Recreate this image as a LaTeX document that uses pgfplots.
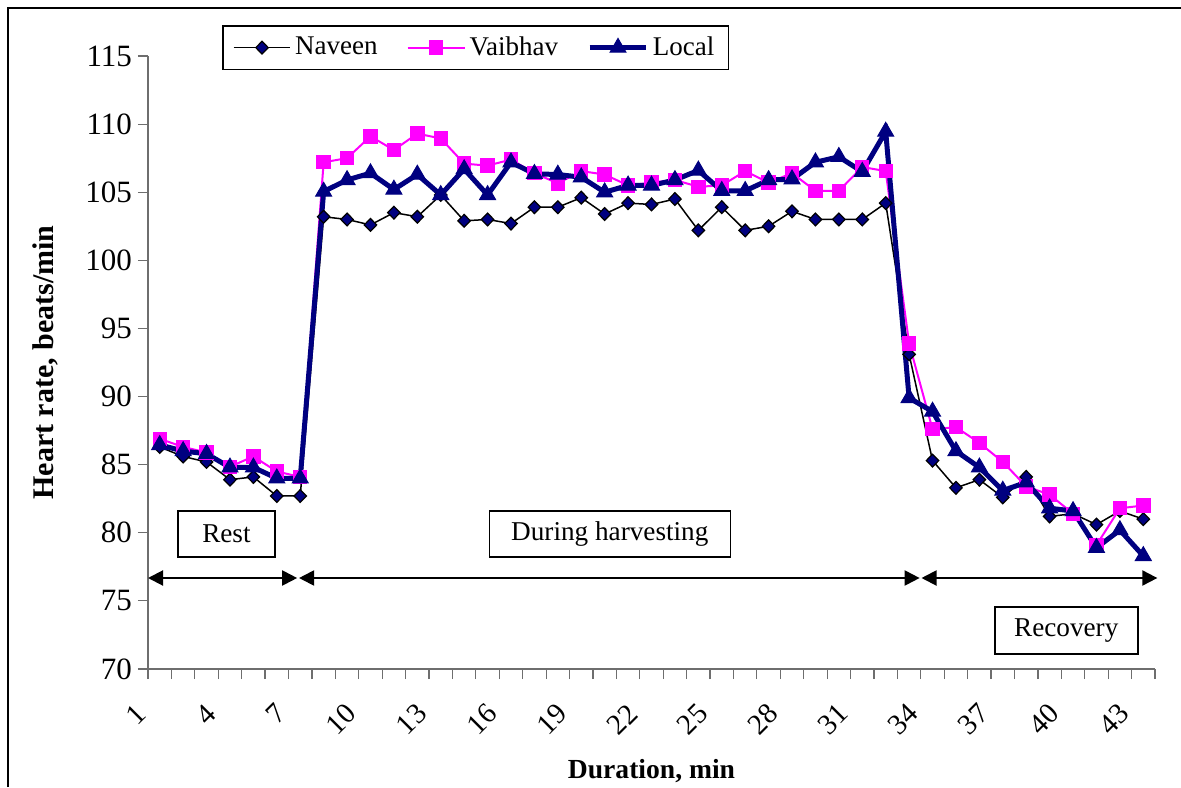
\documentclass[border=0pt]{standalone}
\usepackage{fontspec}
\setmainfont{Liberation Serif}
\usepackage{pgfplots}
\pgfplotsset{compat=1.18}
\usetikzlibrary{arrows.meta}

\definecolor{navy}{RGB}{0,0,128}
\definecolor{vmag}{RGB}{255,0,255}
\definecolor{axgray}{RGB}{110,110,110}

% heart rate readings, minute by minute
\pgfplotstableread{
t naveen vaibhav local
1 86.3 86.9 86.45
2 85.6 86.3 86.0
3 85.2 85.9 85.8
4 83.9 84.85 84.8
5 84.1 85.6 84.8
6 82.7 84.5 84.0
7 82.7 84.1 84.0
8 103.2 107.2 105.05
9 103.0 107.5 105.9
10 102.6 109.1 106.4
11 103.5 108.1 105.2
12 103.2 109.3 106.3
13 104.8 108.95 104.8
14 102.9 107.1 106.7
15 103.0 106.95 104.8
16 102.7 107.4 107.2
17 103.9 106.4 106.35
18 103.9 105.65 106.3
19 104.6 106.55 106.1
20 103.4 106.3 105.0
21 104.2 105.5 105.5
22 104.1 105.7 105.5
23 104.5 105.9 105.9
24 102.2 105.4 106.6
25 103.9 105.5 105.1
26 102.2 106.55 105.1
27 102.5 105.7 105.9
28 103.6 106.4 105.95
29 103.0 105.1 107.2
30 103.0 105.1 107.6
31 103.0 106.85 106.5
32 104.2 106.55 109.45
33 93.1 93.9 89.9
34 85.3 87.6 88.9
35 83.3 87.75 86.0
36 83.9 86.6 84.8
37 82.6 85.2 83.1
38 84.1 83.4 83.7
39 81.2 82.8 81.8
40 81.4 81.4 81.6
41 80.6 79.1 78.9
42 81.6 81.8 80.2
43 81.0 82.0 78.3
}\hr

\begin{document}
\begin{tikzpicture}
\useasboundingbox (0,0) rectangle (590.5pt,393.5pt);
\draw[line width=1.2pt] (4pt,0) -- (4pt,389.5pt) -- (590.5pt,389.5pt);
\begin{axis}[
    at={(74pt,59pt)}, anchor=south west,
    scale only axis,
    width=503.5pt, height=306.5pt,
    xmin=0.5, xmax=43.5,
    ymin=70, ymax=115,
    clip=false,
    axis x line*=bottom,
    axis y line*=left,
    axis line style={axgray, line width=0.8pt},
    tick align=outside,
    major tick length=5pt,
    minor tick length=5pt,
    xtick={1,4,...,43},
    minor xtick={0.5,1.5,...,43.5},
    major x tick style={draw=none},
    minor x tick style={axgray, line width=0.6pt},
    y tick style={axgray, line width=0.6pt},
    ytick={70,75,...,115},
    /pgf/number format/assume math mode=true,
    xticklabel style={font=\fontsize{14.5}{16}\selectfont,
        xshift=-7pt, yshift=-12.5pt, rotate=45, anchor=east},
    yticklabel style={font=\fontsize{15.5}{17}\selectfont, xshift=0.5pt},
    xlabel={\textbf{Duration, min}},
    ylabel={\textbf{Heart rate, beats/min}},
    every axis x label/.style={at={(rel axis cs:0.5,0)}, anchor=center,
        yshift=-51pt, font=\fontsize{13.8}{16}\selectfont},
    every axis y label/.style={at={(rel axis cs:0,0.5)}, xshift=-51.5pt,
        anchor=center, rotate=90, font=\fontsize{15}{17}\selectfont},
    legend columns=3,
    legend style={at={(0.0735,1.0506)}, anchor=north west, draw=black,
        line width=0.8pt, font=\fontsize{13.5}{15}\selectfont,
        inner xsep=5pt, inner ysep=3.5pt,
        /tikz/every even column/.append style={column sep=12.5pt}},
    legend image code/.code={\draw[mark repeat=2,mark phase=2,#1]
        plot coordinates {(0cm,0cm) (0.5cm,0cm) (1.0cm,0cm)};},
]
\addplot[black, line width=0.75pt, mark=diamond*, mark size=3.2pt,
    mark options={fill=navy, draw=black, line width=0.6pt, xscale=1.3}]
    table[x=t, y=naveen] {\hr};
\addplot[vmag, line width=1pt, mark=square*, mark size=3.1pt,
    mark options={fill=vmag, draw=vmag}]
    table[x=t, y=vaibhav] {\hr};
\addplot[navy, line width=2.5pt, mark=triangle*, mark size=4.6pt,
    mark options={fill=navy, draw=navy, line width=0.5pt}]
    table[x=t, y=local] {\hr};
\legend{Naveen, Vaibhav, Local}

% phase arrows and labels
\draw[line width=1pt, {Triangle[length=7.5pt,width=7.5pt]}-{Triangle[length=7.5pt,width=7.5pt]}]
    (axis cs:0.5,76.68) -- (axis cs:6.87,76.68);
\draw[line width=1pt, {Triangle[length=7.5pt,width=7.5pt]}-{Triangle[length=7.5pt,width=7.5pt]}]
    (axis cs:6.95,76.68) -- (axis cs:33.45,76.68);
\draw[line width=1pt, {Triangle[length=7.5pt,width=7.5pt]}-{Triangle[length=7.5pt,width=7.5pt]}]
    (axis cs:33.53,76.68) -- (axis cs:43.6,76.68);
\node[draw, line width=0.8pt, minimum width=48.5pt, minimum height=23pt, inner sep=0pt,
    font=\fontsize{13.6}{15}\selectfont] at (axis cs:3.85,79.91) {Rest};
\node[draw, line width=0.8pt, minimum width=120.5pt, minimum height=23pt, inner sep=0pt,
    font=\fontsize{13.6}{15}\selectfont] at (axis cs:20.22,79.91) {During harvesting};
\node[draw, line width=0.8pt, minimum width=71.5pt, minimum height=23.5pt, inner sep=0pt,
    font=\fontsize{13.6}{15}\selectfont] at (axis cs:39.71,72.83) {Recovery};
\end{axis}
\end{tikzpicture}
\end{document}
